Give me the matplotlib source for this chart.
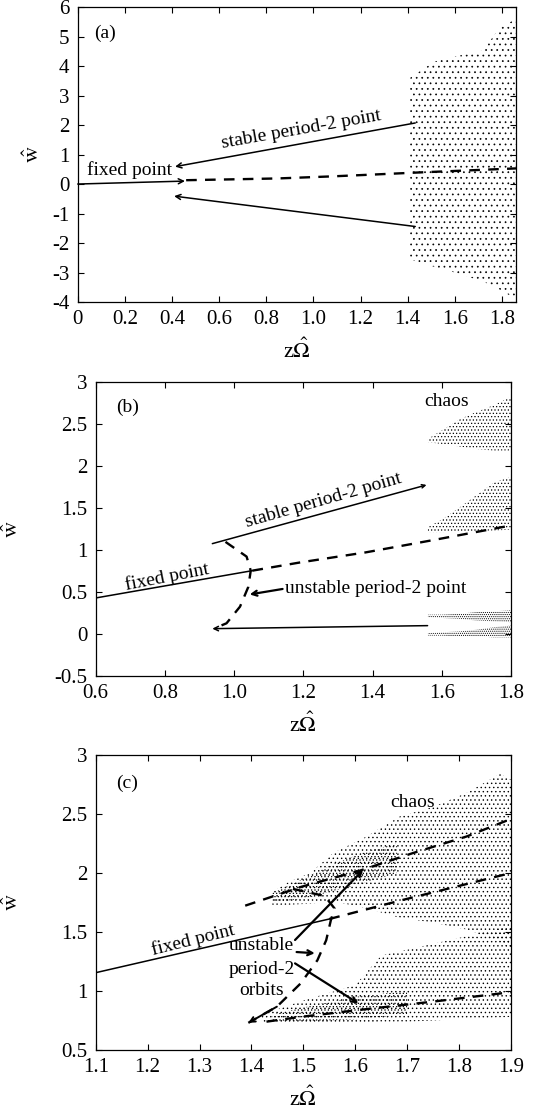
import numpy as np
import matplotlib
matplotlib.use('Agg')
import matplotlib.pyplot as plt

plt.rcParams['font.family'] = ['Liberation Serif', 'DejaVu Serif']
plt.rcParams['mathtext.fontset'] = 'stix'
plt.rcParams['font.size'] = 14
plt.rcParams['hatch.color'] = 'k'
plt.rcParams['hatch.linewidth'] = 0.5

# ---------------- panel (a) ----------------
a_fp_x = [0.0, 0.455]
a_fp_y = [0.0, 0.10]
a_ufp_x = [0.46, 0.66, 0.85, 1.08, 1.25, 1.44, 1.62, 1.86]
a_ufp_y = [0.13, 0.16, 0.19, 0.26, 0.32, 0.39, 0.45, 0.53]
a_p2_up_x = [1.432, 0.413]
a_p2_up_y = [2.07, 0.59]
a_p2_lo_x = [1.432, 0.409]
a_p2_lo_y = [-1.44, -0.41]
a_chaos_x = [1.41, 1.51, 1.58, 1.65, 1.72, 1.79, 1.86]
a_chaos_hi = [3.6, 4.14, 4.3, 4.4, 4.53, 5.3, 5.6]
a_chaos_lo = [-2.55, -2.8, -2.95, -3.13, -3.3, -3.58, -3.9]
a_xticks = [0, 0.2, 0.4, 0.6, 0.8, 1.0, 1.2, 1.4, 1.6, 1.8]
a_xlabels = ['0', '0.2', '0.4', '0.6', '0.8', '1.0', '1.2', '1.4', '1.6', '1.8']
a_yticks = [-4, -3, -2, -1, 0, 1, 2, 3, 4, 5, 6]
a_ylabels = ['-4', '-3', '-2', '-1', '0', '1', '2', '3', '4', '5', '6']

# ---------------- panel (b) ----------------
b_fp_x = [0.6, 1.053]
b_fp_y = [0.428, 0.753]
b_ufp_x = [1.053, 1.19, 1.38, 1.58, 1.8]
b_ufp_y = [0.753, 0.85, 0.97, 1.12, 1.29]
b_p2_up_x = [0.937, 1.556]
b_p2_up_y = [1.074, 1.772]
b_p2_lo_x = [1.559, 0.937]
b_p2_lo_y = [0.099, 0.063]
b_up2_x = [0.975, 1.036, 1.048, 1.041, 1.017, 0.978, 0.945]
b_up2_y = [1.095, 0.92, 0.753, 0.56, 0.325, 0.127, 0.07]
b_ch_x = [1.56, 1.6, 1.65, 1.7, 1.75, 1.8]
b_top_lo = [2.28, 2.26, 2.23, 2.2, 2.18, 2.18]
b_top_hi = [2.32, 2.42, 2.55, 2.64, 2.72, 2.82]
b_mid_lo = [1.21, 1.21, 1.22, 1.22, 1.23, 1.24]
b_mid_hi = [1.27, 1.36, 1.5, 1.65, 1.8, 1.87]
b_low1_lo = [0.2, 0.19, 0.18, 0.16, 0.15, 0.14]
b_low1_hi = [0.23, 0.23, 0.24, 0.26, 0.27, 0.28]
b_low2_lo = [-0.02, -0.02, -0.03, -0.03, -0.04, -0.04]
b_low2_hi = [0.01, 0.02, 0.03, 0.05, 0.08, 0.1]
b_xticks = [0.6, 0.8, 1.0, 1.2, 1.4, 1.6, 1.8]
b_xlabels = ['0.6', '0.8', '1.0', '1.2', '1.4', '1.6', '1.8']
b_yticks = [-0.5, 0, 0.5, 1, 1.5, 2, 2.5, 3]
b_ylabels = ['-0.5', '0', '0.5', '1', '1.5', '2', '2.5', '3']

# ---------------- panel (c) ----------------
c_fp_x = [1.1, 1.55]
c_fp_y = [1.155, 1.61]
c_ufp_x = [1.55, 1.69, 1.9]
c_ufp_y = [1.61, 1.77, 2.0]
c_up_x = [1.388, 1.497, 1.609, 1.712, 1.815, 1.9]
c_up_y = [1.723, 1.884, 2.02, 2.17, 2.31, 2.458]
c_lo_x = [1.429, 1.494, 1.609, 1.75, 1.9]
c_lo_y = [0.74, 0.78, 0.84, 0.91, 0.99]
c_up2_x = [1.48, 1.541, 1.56, 1.553, 1.544, 1.527, 1.495, 1.449, 1.394]
c_up2_y = [1.865, 1.805, 1.7, 1.6, 1.43, 1.26, 1.065, 0.867, 0.73]
c_arr_from_x = [1.484, 1.484, 1.487]
c_arr_from_y = [1.432, 1.234, 1.33]
c_arr_to_x = [1.615, 1.606, 1.522]
c_arr_to_y = [2.025, 0.895, 1.32]
# chaotic cloud: outer envelope and denser core, upper and lower lobe
c_chu_x = [1.44, 1.47, 1.513, 1.558, 1.622, 1.686, 1.75, 1.815, 1.879, 1.9]
c_chu_hi = [1.84, 1.92, 2.0, 2.17, 2.31, 2.48, 2.56, 2.68, 2.84, 2.79]
c_chu_lo = [1.73, 1.73, 1.74, 1.76, 1.7, 1.62, 1.58, 1.52, 1.42, 1.35]
c_chu_core_x = [1.44, 1.5, 1.56, 1.62, 1.68]
c_chu_core_hi = [1.83, 1.95, 2.08, 2.18, 2.25]
c_chu_core_lo = [1.75, 1.78, 1.85, 1.92, 2.0]
c_chl_x = [1.42, 1.5, 1.6, 1.65, 1.7, 1.8, 1.9]
c_chl_hi = [0.8, 0.92, 1.05, 1.3, 1.35, 1.45, 1.55]
c_chl_lo = [0.73, 0.72, 0.73, 0.74, 0.74, 0.76, 0.78]
c_chl_core_x = [1.44, 1.5, 1.6, 1.7]
c_chl_core_hi = [0.8, 0.86, 0.95, 1.0]
c_chl_core_lo = [0.74, 0.74, 0.76, 0.8]
c_xticks = [1.1, 1.2, 1.3, 1.4, 1.5, 1.6, 1.7, 1.8, 1.9]
c_xlabels = ['1.1', '1.2', '1.3', '1.4', '1.5', '1.6', '1.7', '1.8', '1.9']
c_yticks = [0.5, 1, 1.5, 2, 2.5, 3]
c_ylabels = ['0.5', '1', '1.5', '2', '2.5', '3']

fig = plt.figure(figsize=(5.45, 11.17), dpi=100)
ax_a = fig.add_axes([0.1426, 0.7296, 0.8044, 0.2641])
ax_b = fig.add_axes([0.1756, 0.3948, 0.7620, 0.2635])
ax_c = fig.add_axes([0.1756, 0.0600, 0.7620, 0.2641])

solid = dict(color='k', lw=1.1)
dashed = dict(color='k', lw=1.7, dashes=(4.5, 3.5))


def arrow(ax, x0, y0, x1, y1, lw=1.1, scale=9):
    ax.annotate('', xy=(x1, y1), xytext=(x0, y0),
                arrowprops=dict(arrowstyle='->', color='k', lw=lw,
                                shrinkA=0, shrinkB=0, mutation_scale=scale))


def chaos(ax, x, lo, hi, hatch='...'):
    # stippled region standing for the cloud of chaotic iterates
    ax.fill_between(x, lo, hi, facecolor='none', edgecolor='k',
                    hatch=hatch, linewidth=0)


def style(ax, xlim, ylim, xt, xl, yt, yl, ylab_x):
    ax.set_xlim(xlim)
    ax.set_ylim(ylim)
    ax.set_xticks(xt)
    ax.set_xticklabels(xl)
    ax.set_yticks(yt)
    ax.set_yticklabels(yl)
    ax.tick_params(direction='in', length=4, width=0.8, top=True, right=True,
                   labelsize=15, pad=6)
    for s in ax.spines.values():
        s.set_linewidth(0.9)
    ax.set_xlabel(r'z$\hat{\Omega}$', fontsize=16, va='center')
    ax.xaxis.set_label_coords(0.5, -0.165)
    ax.set_ylabel(r'$\hat{\mathrm{w}}$', fontsize=16, va='center')
    ax.yaxis.set_label_coords(ylab_x, 0.5)


# panel (a)
chaos(ax_a, a_chaos_x, a_chaos_lo, a_chaos_hi, '...')
arrow(ax_a, a_fp_x[0], a_fp_y[0], a_fp_x[1], a_fp_y[1])
ax_a.plot(a_ufp_x, a_ufp_y, **dashed)
arrow(ax_a, a_p2_up_x[0], a_p2_up_y[0], a_p2_up_x[1], a_p2_up_y[1])
arrow(ax_a, a_p2_lo_x[0], a_p2_lo_y[0], a_p2_lo_x[1], a_p2_lo_y[1])
ax_a.text(0.07, 5.1, '(a)', va='center')
ax_a.text(0.04, 0.47, 'fixed point', va='center')
ax_a.text(0.95, 1.83, 'stable period-2 point', ha='center', va='center', rotation=10)
style(ax_a, (0, 1.86), (-4, 6), a_xticks, a_xlabels, a_yticks, a_ylabels, -0.10)

# panel (b)
for lo, hi in [(b_top_lo, b_top_hi), (b_mid_lo, b_mid_hi)]:
    chaos(ax_b, b_ch_x, lo, hi, '.....')
for lo, hi in [(b_low1_lo, b_low1_hi), (b_low2_lo, b_low2_hi)]:
    chaos(ax_b, b_ch_x, lo, hi, '........')
ax_b.plot(b_fp_x, b_fp_y, **solid)
ax_b.plot(b_ufp_x, b_ufp_y, **dashed)
arrow(ax_b, b_p2_up_x[0], b_p2_up_y[0], b_p2_up_x[1], b_p2_up_y[1], scale=6)
arrow(ax_b, b_p2_lo_x[0], b_p2_lo_y[0], b_p2_lo_x[1], b_p2_lo_y[1], scale=8)
ax_b.plot(b_up2_x, b_up2_y, **dashed)
arrow(ax_b, 1.14, 0.535, 1.045, 0.47, lw=1.6)
ax_b.text(1.147, 0.54, 'unstable period-2 point', va='center')
ax_b.text(1.55, 2.76, 'chaos', va='center')
ax_b.text(0.66, 2.7, '(b)', va='center')
ax_b.text(0.805, 0.68, 'fixed point', ha='center', va='center', rotation=11)
ax_b.text(1.258, 1.59, 'stable period-2 point', ha='center', va='center', rotation=16)
style(ax_b, (0.6, 1.8), (-0.5, 3), b_xticks, b_xlabels, b_yticks, b_ylabels, -0.199)

# panel (c)
chaos(ax_c, c_chu_x, c_chu_lo, c_chu_hi, '....')
chaos(ax_c, c_chl_x, c_chl_lo, c_chl_hi, '....')
chaos(ax_c, c_chu_core_x, c_chu_core_lo, c_chu_core_hi, '.....')
chaos(ax_c, c_chl_core_x, c_chl_core_lo, c_chl_core_hi, '.....')
ax_c.plot(c_fp_x, c_fp_y, **solid)
ax_c.plot(c_ufp_x, c_ufp_y, **dashed)
ax_c.plot(c_up_x, c_up_y, **dashed)
ax_c.plot(c_lo_x, c_lo_y, **dashed)
ax_c.plot(c_up2_x, c_up2_y, **dashed)
arrow(ax_c, c_up2_x[-2], c_up2_y[-2], c_up2_x[-1], c_up2_y[-1], lw=1.4)
for x0, y0, x1, y1 in zip(c_arr_from_x, c_arr_from_y, c_arr_to_x, c_arr_to_y):
    arrow(ax_c, x0, y0, x1, y1, lw=1.6)
ax_c.text(1.42, 1.384, 'unstable', ha='center', va='center')
ax_c.text(1.42, 1.178, 'period-2', ha='center', va='center')
ax_c.text(1.42, 1.008, 'orbits', ha='center', va='center')
ax_c.text(1.667, 2.6, 'chaos', va='center')
ax_c.text(1.14, 2.76, '(c)', va='center')
ax_c.text(1.288, 1.432, 'fixed point', ha='center', va='center', rotation=14)
style(ax_c, (1.1, 1.9), (0.5, 3), c_xticks, c_xlabels, c_yticks, c_ylabels, -0.199)

fig.savefig('out.png', dpi=100)
